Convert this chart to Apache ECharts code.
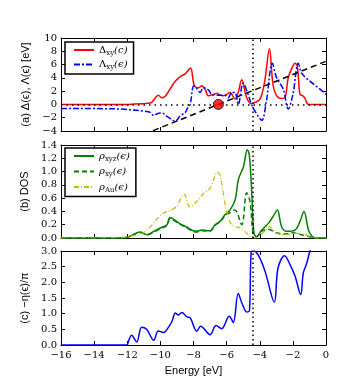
<!DOCTYPE html>
<html><head><meta charset="utf-8">
<script src="https://cdn.jsdelivr.net/npm/echarts@6/dist/echarts.min.js"></script>
<style>html,body{margin:0;padding:0;background:#fff}#c{width:339px;height:384px}</style>
</head><body><div id="c"></div>
<script>
// ---------- data ----------
const xTicks = [-16, -14, -12, -10, -8, -6, -4, -2, 0];
const fermiLevel = -4.45;

// panel (a)
const deltaE = [-16, -12, -11.6, -11.2, -10.6, -10.3, -10.12, -9.92, -9.72, -9.42, -9.1, -8.8, -8.5, -8.31, -8.17, -7.95, -7.7, -7.5, -7.3, -7.1, -6.8, -6.6, -6.4, -6.18, -5.8, -5.5, -5.3, -5.09, -4.79, -4.5, -4.29, -3.98, -3.7, -3.42, -3.2, -2.98, -2.68, -2.48, -2.28, -2.05, -1.87, -1.73, -1.57, -1.4, -1.25, -1.06, 0];
const deltaV = [0, 0, 0.05, 0.1, 0.2, 1.0, 1.4, 1.0, 1.2, 2.3, 3.5, 4.2, 4.6, 5.2, 5.5, 2.8, 2.5, 2.8, 2.3, 1.3, 1.5, 1.7, 1.4, 1.3, 1.8, 0.8, 1.8, 3.7, 1.0, 0.1, 0.3, 0.8, 3.5, 8.4, 3.0, 1.3, 0.9, 1.0, 4.0, 5.5, 6.2, 5.7, 1.5, 1.3, 0.8, 0, 0];
const lambdaE = [-16, -13, -12.4, -11, -10.6, -10.4, -10.2, -9.9, -9.6, -9.1, -8.8, -8.5, -8.35, -8.2, -8.05, -7.97, -7.77, -7.6, -7.4, -7.1, -6.9, -6.6, -6.1, -5.9, -5.7, -5.5, -5.3, -5.0, -4.7, -4.5, -4.19, -3.88, -3.6, -3.24, -2.98, -2.58, -2.28, -2.0, -1.67, -1.47, -0.97, -0.36, 0];
const lambdaV = [-0.6, -0.65, -0.7, -1.0, -1.2, -1.7, -1.4, -1.3, -1.8, -2.5, -1.7, -1.2, -0.5, 0, 2.5, 2.8, 2.3, 1.8, 2.5, 2.2, 1.5, 1.4, 1.4, 1.0, 1.8, 1.8, 0.0, 3.2, 1.5, 0.0, -1.4, -2.4, 0.5, 6.2, 4.0, 2.3, -0.7, 1.5, 6.2, 4.7, 3.5, 2.3, 1.5];
const lineE = [-11, 0];
const lineV = [-4.5, 6.5];
const dotE = [-6.5];
const dotV = [0];

// panel (b)
const xyzE = [-16, -12.2, -11.9, -11.23, -10.8, -10.4, -10.0, -9.6, -9.42, -8.85, -8.45, -7.85, -7.5, -7.0, -6.7, -6.4, -6.1, -5.8, -5.49, -5.29, -4.99, -4.75, -4.63, -4.49, -4.35, -4.19, -3.88, -3.48, -3.18, -2.94, -2.68, -2.38, -1.87, -1.57, -1.33, -1.06, -0.86, -0.66, 0];
const xyzV = [0, 0, 0.02, 0.09, 0.05, 0.1, 0.15, 0.2, 0.31, 0.22, 0.17, 0.1, 0.12, 0.11, 0.2, 0.25, 0.35, 0.42, 0.57, 0.88, 1.07, 1.33, 1.25, 0.72, 0.07, 0.02, 0.12, 0.22, 0.33, 0.42, 0.17, 0.1, 0.12, 0.25, 0.4, 0.12, 0.03, 0, 0];
const xyE = [-16, -12.2, -11.9, -11.23, -10.8, -10.4, -10.0, -9.6, -9.42, -8.85, -8.45, -7.85, -7.5, -7.0, -6.7, -6.4, -6.1, -5.8, -5.5, -5.09, -4.79, -4.59, -4.39, -4.2, -3.9, -3.5, -3.0, -2.5, -2.0, -1.5, -1.0, -0.6, 0];
const xyV = [0, 0, 0.02, 0.08, 0.05, 0.09, 0.14, 0.19, 0.29, 0.21, 0.16, 0.09, 0.11, 0.1, 0.19, 0.24, 0.33, 0.38, 0.42, 0.2, 0.68, 0.55, 0.05, 0.02, 0.1, 0.13, 0.08, 0.06, 0.08, 0.05, 0.02, 0, 0];
const auE = [-16, -13.5, -12.5, -12.0, -11.2, -10.6, -10.0, -9.6, -9.3, -9.0, -8.57, -8.21, -7.8, -7.4, -7.0, -6.55, -6.4, -6.2, -6.0, -5.7, -5.2, -4.9, -4.6, -4.3, -3.7, -3.42, -2.98, -2.38, -1.77, -1.27, -0.9, -0.6, 0];
const auV = [0, 0, 0.01, 0.02, 0.06, 0.17, 0.34, 0.4, 0.43, 0.48, 0.66, 0.47, 0.55, 0.67, 0.75, 0.99, 0.95, 0.67, 0.4, 0.2, 0.15, 0.1, 0.03, 0.0, 0.1, 0.17, 0.07, 0.05, 0.07, 0.05, 0.01, 0, 0];

// panel (c)
const etaE = [-16, -12.0, -11.97, -11.73, -11.43, -11.13, -10.83, -10.4, -10.13, -9.8, -9.6, -9.3, -9.1, -8.9, -8.71, -8.4, -8.2, -7.8, -7.57, -7.0, -6.64, -6.3, -5.84, -5.6, -5.3, -5.05, -4.77, -4.62, -4.52, -4.37, -4.07, -3.68, -3.12, -2.9, -2.5, -2.2, -1.87, -1.53, -1.37, -1.17, -0.97, -0.7];
const etaV = [0, 0, 0.0, 0.31, 0.1, 0.57, 0.5, 0.15, 0.45, 0.4, 0.5, 0.75, 1.02, 0.96, 1.04, 0.9, 0.87, 0.44, 0.6, 0.33, 0.62, 0.52, 0.92, 0.72, 1.64, 1.3, 1.05, 1.1, 2.95, 3.0, 2.85, 2.35, 1.37, 2.45, 2.85, 2.6, 2.2, 1.61, 2.3, 2.6, 3.0, 3.4];

// ---------- helpers ----------
const zip = (a, b) => a.map((x, i) => [x, b[i]]);
const minus = s => String(s).replace('-', '\u2212');
const tickFont = {fontFamily: 'DejaVu Serif', fontSize: 10, color: '#000'};
const axisLine = {show: true, onZero: false, lineStyle: {color: '#000', width: 1}};
const tickIn = {show: true, inside: true, length: 4, lineStyle: {color: '#000', width: 1}};

const grids = [
  {left: 61, right: 13, top: 38, height: 93},
  {left: 61, right: 13, top: 145, height: 93},
  {left: 61, right: 13, top: 251, height: 94}
];
const yDefs = [
  {min: -4, max: 10, interval: 2, fmt: v => minus(v), name: '(a) \u0394(\u03f5), \u039b(\u03f5) [eV]'},
  {min: 0, max: 1.4, interval: 0.2, fmt: v => v.toFixed(1), name: '(b) DOS'},
  {min: 0, max: 3, interval: 0.5, fmt: v => v.toFixed(1), name: '(c) \u2212\u03b7(\u03f5)/\u03c0'}
];

const xAxis = [], yAxis = [];
grids.forEach((g, i) => {
  xAxis.push({type: 'value', gridIndex: i, position: 'bottom', min: xTicks[0], max: xTicks[xTicks.length - 1], interval: 2,
    axisLine, axisTick: tickIn, splitLine: {show: false},
    axisLabel: {show: i === 2, formatter: v => minus(v), margin: 5, ...tickFont},
    name: i === 2 ? 'Energy [eV]' : '', nameLocation: 'middle', nameGap: 20,
    nameTextStyle: {fontFamily: 'Liberation Sans', fontSize: 11, color: '#000'}});
  xAxis.push({type: 'value', gridIndex: i, position: 'top', min: -16, max: 0, interval: 2,
    axisLine, axisTick: tickIn, splitLine: {show: false}, axisLabel: {show: false}});
  const d = yDefs[i];
  yAxis.push({type: 'value', gridIndex: i, position: 'left', min: d.min, max: d.max, interval: d.interval,
    axisLine, axisTick: tickIn, splitLine: {show: false},
    axisLabel: {formatter: d.fmt, margin: 4, ...tickFont},
    name: d.name, nameLocation: 'middle', nameGap: 27, nameRotate: 90,
    nameTextStyle: {fontFamily: 'Liberation Sans', fontSize: 11, color: '#000'}});
  yAxis.push({type: 'value', gridIndex: i, position: 'right', min: d.min, max: d.max, interval: d.interval,
    axisLine, axisTick: tickIn, splitLine: {show: false}, axisLabel: {show: false}});
});

const fermiMark = {symbol: 'none', silent: true, label: {show: false},
  lineStyle: {type: [1.5, 3], color: '#000', width: 1.5}, data: [{xAxis: fermiLevel}]};

function lineSeries(name, data, gi, color, type, extra) {
  return Object.assign({name, type: 'line', data, xAxisIndex: gi * 2, yAxisIndex: gi * 2,
    showSymbol: false, symbol: 'none', smooth: 0.35, clip: true, z: 3,
    lineStyle: {color, width: 1.5, type}, itemStyle: {color}}, extra || {});
}

const series = [
  lineSeries('delta', zip(deltaE, deltaV), 0, '#ff0000', 'solid', {
    markLine: {symbol: 'none', silent: true, label: {show: false},
      data: [{xAxis: fermiLevel, lineStyle: {type: [1.5, 3], color: '#000', width: 1.5}},
             {yAxis: 0, lineStyle: {type: [1.5, 4], color: '#000', width: 1.5}}]}}),
  lineSeries('lambda', zip(lambdaE, lambdaV), 0, '#0000ff', [6, 2, 2, 2]),
  {type: 'line', data: zip(lineE, lineV), xAxisIndex: 0, yAxisIndex: 0, showSymbol: false, symbol: 'none', clip: true,
    lineStyle: {color: '#000', width: 1.5, type: [6, 4]}, z: 4},
  {type: 'scatter', data: zip(dotE, dotV), xAxisIndex: 0, yAxisIndex: 0, symbolSize: 10, z: 5,
    itemStyle: {color: '#ff0000', borderColor: '#000', borderWidth: 1}},
  lineSeries('xyz', zip(xyzE, xyzV), 1, '#008000', 'solid', {markLine: fermiMark}),
  lineSeries('xy', zip(xyE, xyV), 1, '#008000', [5, 3]),
  lineSeries('au', zip(auE, auV), 1, '#bfbf00', [5, 2, 1, 2], {lineStyle: {color: '#bfbf00', width: 1.2, type: [5, 2, 1, 2]}}),
  lineSeries('eta', zip(etaE, etaV), 2, '#0000ff', 'solid', {markLine: fermiMark})
];

const legendNames = {
  delta: '{g|\u0394}{s|xy}{i|(c)}',
  lambda: '{g|\u039b}{s|xy}{i|(\u03f5)}',
  xyz: '{i|\u03c1}{s|xyz}{i|(\u03f5)}',
  xy: '{i|\u03c1}{s|xy}{i|(\u03f5)}',
  au: '{i|\u03c1}{s|Au}{i|(\u03f5)}'
};
const rich = {
  g: {fontFamily: 'DejaVu Serif', fontSize: 10, color: '#000'},
  i: {fontFamily: 'DejaVu Serif', fontSize: 10, fontStyle: 'italic', color: '#000'},
  s: {fontFamily: 'DejaVu Serif', fontSize: 7, color: '#000', verticalAlign: 'bottom', padding: [6, 0, 0, 0]}
};
const legendBase = {orient: 'vertical', left: 65, borderColor: '#000', borderWidth: 1.5, backgroundColor: '#fff',
  itemWidth: 20, itemHeight: 8, itemGap: 3, padding: [3, 6, 3, 8],
  itemStyle: {opacity: 0, color: 'transparent', borderWidth: 0},
  formatter: n => legendNames[n], textStyle: {rich, color: '#000'}};

const option = {
  animation: false,
  backgroundColor: '#fff',
  grid: grids,
  xAxis, yAxis,
  legend: [
    Object.assign({}, legendBase, {top: 42, data: ['delta', 'lambda']}),
    Object.assign({}, legendBase, {top: 148, itemGap: 4, data: ['xyz', 'xy', 'au']})
  ],
  series
};
const chart = echarts.init(document.getElementById('c'), null, {renderer: 'canvas'});
chart.setOption(option);
</script>
</body></html>
